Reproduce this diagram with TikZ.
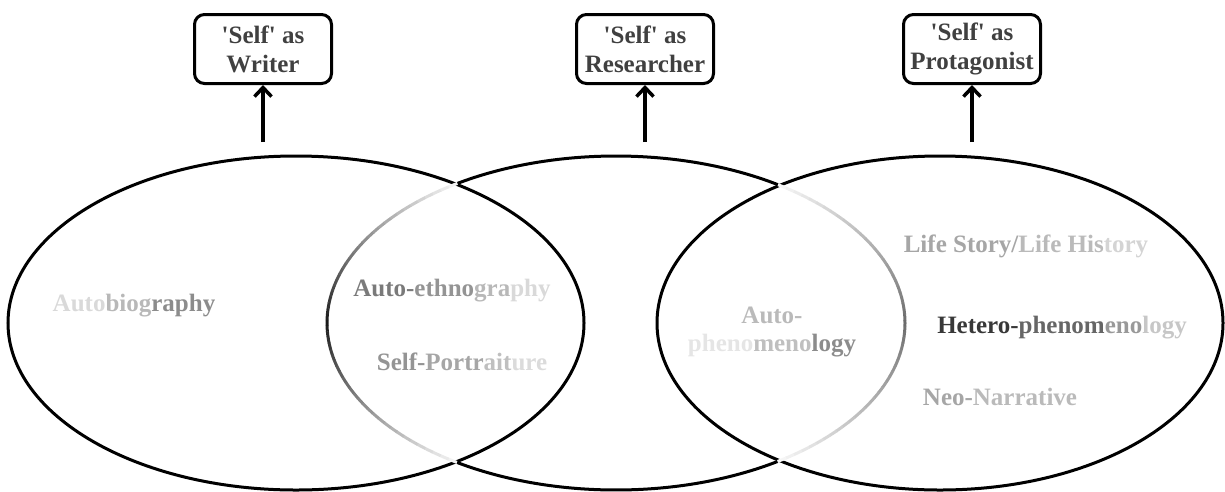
\documentclass[tikz,border=0pt]{standalone}
\usepackage{fontspec}
\setmainfont{Liberation Serif}[BoldFont={Liberation Serif Bold}]
\usetikzlibrary{arrows.meta}

\definecolor{boxtext}{HTML}{404040}

\tikzset{
  rolebox/.style={draw, line width=3pt, rounded corners=10pt, minimum width=137pt, minimum height=69pt,
    align=center, text=boxtext, inner sep=0pt, font=\rmfamily\fontsize{25}{29}\selectfont\bfseries},
  rolearrow/.style={line width=3.5pt, -{Straight Barb[length=9pt,width=17pt]}},
  ring/.style={line width=3pt},
  method/.style={anchor=base, inner sep=0pt, font=\rmfamily\fontsize{25}{28}\selectfont\bfseries},
}

\begin{document}
\begin{tikzpicture}[x=1pt,y=-1pt]
	\useasboundingbox (0,0) rectangle (1225,491);

	% outer rings
	\draw[ring] (296,323) ellipse [x radius=288, y radius=167];
	\draw[ring] (940,323) ellipse [x radius=283, y radius=167];

	% middle ring: black outside the others
	\draw[ring] (616,323) ++(55.9:289 and 167) arc[start angle=55.9, end angle=123.4, x radius=289, y radius=167];
	\draw[ring] (616,323) ++(236.6:289 and 167) arc[start angle=236.6, end angle=304.1, x radius=289, y radius=167];
	% ... and fading where it runs inside them
	\foreach \i in {0,...,56} {
		\pgfmathsetmacro\lo{123.4+\i*1.986}
		\pgfmathsetmacro\hi{\lo+2.1}
		\pgfmathsetmacro\shade{max(3,90-87*abs(\lo+1-180)/57)}
		\draw[ring, black!\shade] (616,323) ++(\lo:289 and 167) arc[start angle=\lo, end angle=\hi, x radius=289, y radius=167];
		\pgfmathsetmacro\lo{-55.9+\i*1.961}
		\pgfmathsetmacro\hi{\lo+2.1}
		\pgfmathsetmacro\shade{max(3,58-55*abs(\lo+1)/56)}
		\draw[ring, black!\shade] (616,323) ++(\lo:289 and 167) arc[start angle=\lo, end angle=\hi, x radius=289, y radius=167];
	}

	% roles
	\node[rolebox] (writer) at (263,49) {\textquotesingle Self\textquotesingle\ as\\Writer};
	\node[rolebox] (researcher) at (645,49) {\textquotesingle Self\textquotesingle\ as\\Researcher};
	\node[rolebox] (protagonist) at (972,49) {\textquotesingle Self\textquotesingle\ as\\Protagonist};

	\coordinate (writerfoot) at (263,142);
	\coordinate (researcherfoot) at (645,142);
	\coordinate (protagonistfoot) at (972,142);
	\draw[rolearrow] (writerfoot) -- (writer.south);
	\draw[rolearrow] (researcherfoot) -- (researcher.south);
	\draw[rolearrow] (protagonistfoot) -- (protagonist.south);

	% methods
	\node[method] (autobio) at (134,311) {{\color{black!15}Auto}{\color{black!28}biog}{\color{black!45}raphy}};
	\node[method] (autoethno) at (452,296) {{\color{black!52}Auto-}{\color{black!42}ethno}{\color{black!28}gra}{\color{black!15}phy}};
	\node[method] (selfport) at (462,370) {{\color{black!42}Self-}{\color{black!35}Portr}{\color{black!25}ait}{\color{black!14}ure}};
	\node[method, anchor=center, align=center] (autophen) at (772,332) {{\color{black!27}Auto-}\\{\color{black!10}pheno}{\color{black!25}meno}{\color{black!45}logy}};
	\node[method] (lifestory) at (1026,252) {{\color{black!35}Life Story/}{\color{black!27}Life His}{\color{black!17}tory}};
	\node[method] (heterophen) at (1062,333) {{\color{black!78}Hetero-}{\color{black!60}phenom}{\color{black!40}eno}{\color{black!22}logy}};
	\node[method] (neonarr) at (1000,405) {{\color{black!35}Neo-}{\color{black!27}Narrative}};
\end{tikzpicture}
\end{document}
